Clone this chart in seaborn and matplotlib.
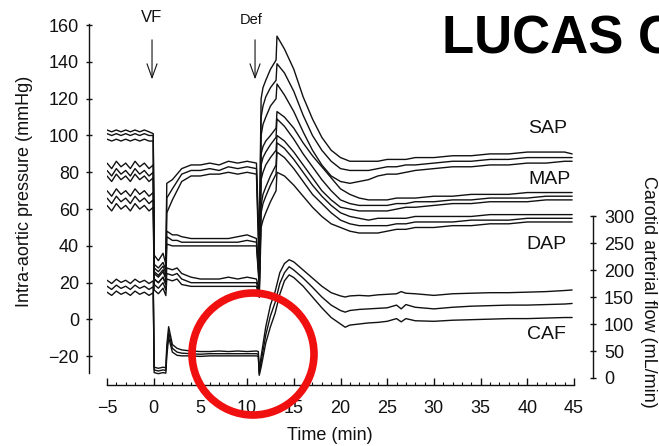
import matplotlib
matplotlib.use("Agg")
import matplotlib.pyplot as plt
import seaborn as sns
from matplotlib.ticker import MultipleLocator
from matplotlib.patches import Ellipse

# time axis (min) for the pressure traces
time_p = [-5, -4.5, -4, -3.5, -3, -2.5, -2, -1.5, -1, -0.5,
          -0.05, 0.05, 0.5, 1.0, 1.3, 1.4, 2, 2.5, 3, 4,
          5, 6, 7, 8, 9, 10, 11, 11.3, 11.5, 11.7,
          12, 12.5, 13.1, 13.2, 14, 15, 16, 17, 18, 19,
          20, 21, 22, 23, 24, 25, 26, 27, 28, 30,
          32, 34, 36, 38, 40, 42, 44, 44.8]

# systolic, mean and diastolic pressure (mean +/- SD), mmHg
sap_hi = [103, 102, 103, 102, 103, 102, 103, 102, 103, 102,
          101, 35, 32, 36, 30, 74, 76, 79, 82, 84,
          84, 85, 84, 86, 85, 86, 85, 40, 120, 126,
          130, 136, 141, 154, 147, 136, 121, 109, 99, 92,
          88, 86, 86, 86, 86, 87, 87, 87, 88, 88,
          89, 89, 90, 90, 91, 91, 91, 90]
sap_mid = [101, 100, 101, 100, 101, 100, 101, 100, 101, 100,
           100, 30, 28, 31, 27, 66, 71, 75, 79, 81,
           81, 82, 81, 83, 82, 83, 82, 32, 110, 116,
           121, 126, 130, 139, 134, 124, 111, 100, 92, 86,
           82, 81, 81, 81, 82, 83, 83, 84, 84, 85,
           86, 86, 87, 87, 88, 88, 88, 88]
sap_lo = [98, 97, 98, 97, 98, 97, 98, 97, 98, 97,
          97, 26, 24, 27, 23, 58, 65, 70, 75, 78,
          78, 79, 79, 80, 79, 80, 79, 25, 100, 106,
          110, 116, 120, 128, 122, 113, 102, 92, 84, 78,
          75, 74, 75, 76, 78, 79, 79, 80, 81, 82,
          83, 83, 84, 84, 85, 85, 86, 86]
map_hi = [85, 82, 86, 83, 85, 82, 86, 83, 85, 82,
          84, 28, 26, 29, 25, 48, 46, 46, 45, 44,
          44, 44, 44, 44, 45, 46, 44, 22, 90, 94,
          97, 100, 104, 113, 110, 104, 96, 89, 83, 77,
          71, 68, 66, 65, 65, 65, 66, 66, 66, 67,
          67, 68, 68, 68, 69, 69, 69, 69]
map_mid = [81, 78, 82, 79, 81, 78, 82, 79, 81, 78,
           80, 25, 23, 26, 22, 45, 43, 43, 42, 42,
           42, 42, 42, 42, 42, 43, 42, 20, 84, 88,
           91, 95, 99, 109, 105, 98, 90, 83, 76, 70,
           65, 63, 62, 62, 62, 62, 63, 63, 64, 64,
           65, 65, 66, 66, 66, 67, 67, 67]
map_lo = [78, 75, 79, 76, 78, 75, 79, 76, 78, 75,
          77, 22, 20, 23, 19, 41, 40, 40, 40, 40,
          40, 40, 40, 40, 40, 40, 40, 18, 76, 80,
          84, 88, 92, 100, 97, 91, 84, 77, 70, 65,
          61, 60, 59, 59, 59, 59, 60, 61, 61, 62,
          63, 63, 64, 64, 64, 65, 65, 65]
dap_hi = [70, 67, 71, 68, 70, 67, 71, 68, 70, 67,
          69, 22, 20, 23, 19, 28, 27, 28, 25, 23,
          22, 22, 22, 23, 22, 23, 22, 16, 62, 68,
          72, 78, 84, 96, 93, 87, 80, 73, 67, 62,
          58, 56, 55, 54, 55, 55, 55, 55, 56, 56,
          56, 56, 57, 57, 57, 57, 57, 57]
dap_mid = [66, 63, 67, 64, 66, 63, 67, 64, 66, 63,
           65, 19, 17, 20, 16, 25, 24, 25, 22, 20,
           20, 20, 20, 20, 20, 20, 20, 14, 58, 63,
           67, 73, 79, 91, 88, 82, 75, 68, 63, 58,
           54, 52, 51, 51, 51, 51, 52, 52, 53, 53,
           53, 54, 54, 54, 55, 55, 55, 55]
dap_lo = [62, 59, 63, 60, 62, 59, 63, 60, 62, 59,
          61, 16, 14, 17, 13, 22, 21, 22, 19, 18,
          18, 18, 18, 18, 18, 18, 18, 12, 50, 54,
          58, 64, 70, 80, 78, 73, 67, 61, 56, 52,
          50, 48, 47, 47, 47, 48, 49, 49, 50, 50,
          51, 51, 52, 52, 53, 53, 53, 53]

# time axis (min) for carotid arterial flow
time_f = [-5, -4.5, -4, -3.5, -3, -2.5, -2, -1.5, -1, -0.5,
          -0.05, 0.05, 0.5, 1.0, 1.3, 1.4, 1.6, 2, 2.5, 3,
          4, 5, 6, 7, 8, 9, 10, 11, 11.2, 11.3,
          11.5, 12, 12.5, 13, 13.5, 14, 14.5, 15, 16, 17,
          18, 19, 20, 20.5, 21, 22, 23, 24, 25, 26,
          26.5, 27, 28, 30, 32, 34, 36, 38, 40, 42,
          44, 44.8]

# carotid arterial flow (mean +/- SD), mL/min
caf_hi = [181, 175, 183, 177, 181, 175, 183, 177, 181, 175,
          180, 20, 18, 20, 19, 60, 95, 62, 55, 52,
          50, 49, 49, 50, 49, 50, 49, 50, 49, 12,
          40, 95, 135, 160, 195, 212, 219, 215, 200, 185,
          170, 158, 152, 150, 152, 153, 152, 154, 155, 156,
          160, 157, 156, 153, 156, 157, 158, 158, 159, 160,
          162, 163]
caf_mid = [170, 164, 172, 166, 170, 164, 172, 166, 170, 164,
           169, 15, 13, 15, 14, 50, 85, 55, 48, 46,
           45, 44, 45, 45, 45, 45, 45, 45, 44, 8,
           30, 80, 115, 140, 175, 195, 206, 200, 185, 168,
           150, 135, 125, 122, 125, 127, 128, 129, 130, 135,
           128, 136, 131, 128, 131, 133, 134, 135, 135, 136,
           137, 138]
caf_lo = [159, 153, 161, 155, 159, 153, 161, 155, 159, 153,
          158, 10, 8, 10, 9, 40, 75, 48, 42, 41,
          41, 40, 41, 41, 41, 41, 41, 41, 40, 5,
          20, 65, 95, 120, 155, 180, 191, 186, 170, 150,
          130, 112, 100, 94, 98, 100, 102, 103, 105, 110,
          104, 110, 106, 105, 107, 108, 109, 110, 110, 111,
          112, 112]

pressure_traces = [sap_hi, sap_mid, sap_lo, map_hi, map_mid, map_lo,
                   dap_hi, dap_mid, dap_lo]
flow_traces = [caf_hi, caf_mid, caf_lo]

sns.set_theme(style="ticks")
plt.rcParams['font.family'] = ['Liberation Sans', 'DejaVu Sans']
ink = '#111111'

W, H = 659, 446
fig = plt.figure(figsize=(W / 100, H / 100), dpi=100)
ax = fig.add_axes([107 / W, 1 - 378 / H, (574 - 107) / W, (378 - 24) / H])
ax2 = ax.twinx()

for y in pressure_traces:
    sns.lineplot(x=time_p, y=y, ax=ax, color=ink, lw=1.0, estimator=None, sort=False)
for y in flow_traces:
    sns.lineplot(x=time_f, y=y, ax=ax2, color=ink, lw=1.0, estimator=None, sort=False)

ax.set_xlim(-5, 45)
ax.set_ylim(-31.8, 160.6)
ax2.set_ylim(0, 655.6)

# axis styling
for s in ['top', 'right']:
    ax.spines[s].set_visible(False)
for s in ['top', 'left', 'bottom']:
    ax2.spines[s].set_visible(False)
ax.spines['left'].set_position(('outward', 13))
ax.spines['left'].set_bounds(-29, 160.6)
ax.spines['bottom'].set_position(('outward', 5))
ax.spines['bottom'].set_bounds(-5, 45)
ax2.spines['right'].set_position(('outward', 13.7))
ax2.spines['right'].set_bounds(0, 300)
for sp in [ax.spines['left'], ax.spines['bottom'], ax2.spines['right']]:
    sp.set_color(ink)
    sp.set_linewidth(1.0)

ax.set_yticks(range(-20, 161, 20))
ax.set_xticks(range(-5, 46, 5))
ax.xaxis.set_minor_locator(MultipleLocator(1))
ax2.set_yticks(range(0, 301, 50))
ax.tick_params(axis='y', direction='inout', length=5, width=1, colors=ink,
               labelsize=13, pad=4.5)
ax.tick_params(axis='x', which='major', direction='in', length=5, width=1,
               colors=ink, labelsize=13, pad=11)
ax.tick_params(axis='x', which='minor', direction='in', length=2.5, width=0.8,
               colors=ink)
ax2.tick_params(axis='y', direction='inout', length=5, width=1, colors=ink,
                labelsize=13, pad=5.4)
ax.set_xlabel('')
ax.set_ylabel('')
ax2.set_ylabel('')

# trace labels
ax.text(44.25, 104, 'SAP', ha='right', va='center', fontsize=14, color=ink)
ax.text(44.6, 76, 'MAP', ha='right', va='center', fontsize=14, color=ink)
ax.text(44.25, 40.5, 'DAP', ha='right', va='center', fontsize=14, color=ink)
ax.text(44.1, -8.4, 'CAF', ha='right', va='center', fontsize=14, color=ink)

# event arrows
arrow = dict(arrowstyle='->,head_length=0.5,head_width=0.18', lw=0.8,
             color=ink, mutation_scale=20)
ax.annotate('', xy=(-0.18, 129), xytext=(-0.18, 153.5), arrowprops=arrow,
            annotation_clip=False)
ax.annotate('', xy=(10.85, 129), xytext=(10.85, 153.5), arrowprops=arrow,
            annotation_clip=False)
ax.text(-0.18, 163.9, 'VF', ha='center', va='center', fontsize=12, color=ink)
ax.text(10.4, 162.8, 'Def', ha='center', va='center', fontsize=10.5, color=ink)

# axis titles
fig.text(25 / W, 1 - 191 / H, 'Intra-aortic pressure (mmHg)', rotation=90,
         ha='center', va='center', fontsize=13, color=ink)
fig.text(330 / W, 1 - 435 / H, 'Time (min)', ha='center', va='center',
         fontsize=13, color=ink)
fig.text(649 / W, 1 - 292 / H, 'Carotid arterial flow (mL/min)', rotation=270,
         ha='center', va='center', fontsize=13, color=ink)

# overlay title and highlight circle
fig.text(442 / W, 1 - 53 / H, 'LUCAS C', ha='left', va='baseline',
         fontsize=38, fontweight='bold', color='black')
fig.add_artist(Ellipse((253 / W, 1 - 354 / H), width=122 / W, height=122 / H,
                       transform=fig.transFigure, fill=False,
                       edgecolor='#f01010', lw=5.5, zorder=10))

fig.savefig('out.png', dpi=100)
